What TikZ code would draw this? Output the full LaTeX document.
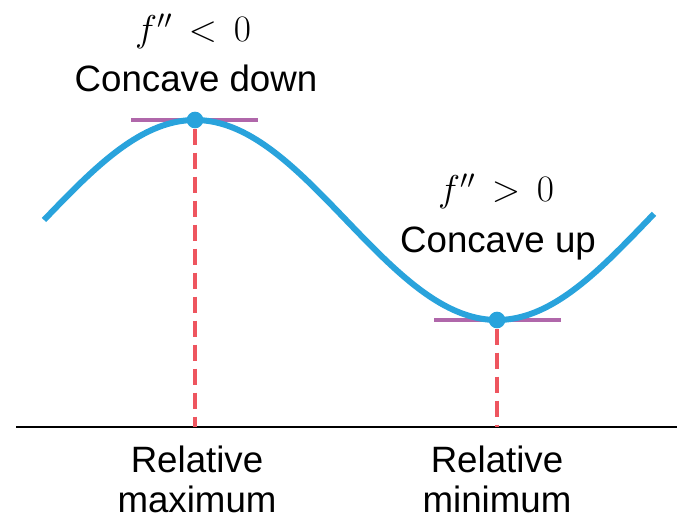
\RequirePackage{fix-cm}
\documentclass[tikz,border=0pt]{standalone}
\usepackage{fontspec}
\setmainfont{Liberation Sans}
\begin{document}
\begin{tikzpicture}[x=0.75pt,y=-0.75pt,
  curve/.style={draw={rgb,255:red,41;green,163;blue,220},line width=4.5pt},
  tangent/.style={draw={rgb,255:red,176;green,103;blue,170},line width=3pt},
  guide/.style={draw={rgb,255:red,238;green,85;blue,95},line width=2.3pt,dash pattern=on 12pt off 6pt},
  dotm/.style={circle,fill={rgb,255:red,41;green,163;blue,220},inner sep=0pt,minimum size=12.5pt},
  lbl/.style={font=\fontsize{27.5}{30}\selectfont,anchor=base,inner sep=0pt},
  mlbl/.style={font=\fontsize{28}{30}\selectfont,anchor=base,inner sep=0pt}]
\useasboundingbox (0,0) rectangle (677,520);
% axis
\coordinate (axL) at (16,427);
\coordinate (axR) at (677,427);
\draw[line width=2.2pt] (axL) -- (axR);
% feet
\coordinate (f1) at (195,427);
\coordinate (f2) at (497,427);
% tangent lines
\coordinate (t1a) at (131,120); \coordinate (t1b) at (258,120);
\coordinate (t2a) at (434,320); \coordinate (t2b) at (561,320);
\draw[tangent] (t1a) -- (t1b);
\draw[tangent] (t2a) -- (t2b);
% curve
\draw[curve,domain=44:654,samples=120,smooth] plot (\x,{220-100*cos(0.596*(\x-195))});
% dots
\node[dotm] (mx) at (195,120) {};
\node[dotm] (mn) at (497,320) {};
% dashed guides
\draw[guide] (mx.south) -- (f1);
\draw[guide] (mn.south) -- (f2);
% labels
\node[mlbl] (c1m) at (193,42) {$f''\,<\,0$};
\node[lbl] (c1) at (196,92) {Concave down};
\node[mlbl] (c2m) at (496,202) {$f''\,>\,0$};
\node[lbl] (c2) at (498,252) {Concave up};
\node[lbl] (r1) at (197,472) {Relative};
\node[lbl] (r1b) at (197,512) {maximum};
\node[lbl] (r2) at (497,472) {Relative};
\node[lbl] (r2b) at (497,512) {minimum};
\end{tikzpicture}
\end{document}
